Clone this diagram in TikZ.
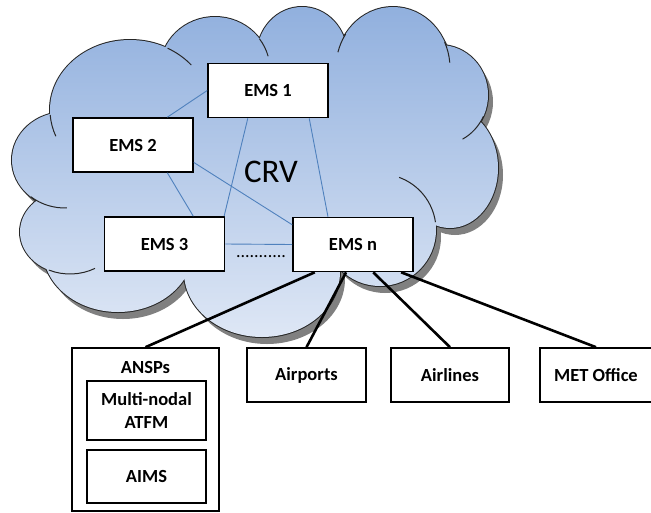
\documentclass[tikz,border=0pt]{standalone}
\usepackage{fontspec}
\setmainfont{Carlito}
\definecolor{cloudtop}{RGB}{145,176,222}
\definecolor{cloudbottom}{RGB}{222,231,245}
\definecolor{meshblue}{RGB}{79,129,189}

\tikzset{
  cloudshape/.style={insert path={
    (130,110) ellipse [x radius=80, y radius=70]
    (215,70) ellipse [x radius=55, y radius=53]
    (302,55) ellipse [x radius=45, y radius=48]
    (393,68) ellipse [x radius=57, y radius=61]
    (440,95) ellipse [x radius=48, y radius=50]
    (450,168) ellipse [x radius=48, y radius=60]
    (380,230) ellipse [x radius=56, y radius=56]
    (262,272) ellipse [x radius=78, y radius=65]
    (118,250) ellipse [x radius=75, y radius=62]
    (70,232) ellipse [x radius=50, y radius=42]
    (65,160) ellipse [x radius=53, y radius=48]
  }},
  cloudcore/.style={insert path={(260,165) ellipse [x radius=210, y radius=110]}},
  boxfont/.style={font=\bfseries\fontsize{18.5}{22.5}\selectfont},
}

\begin{document}
\begin{tikzpicture}[x=1pt, y=-1pt]
\useasboundingbox (0,0) rectangle (651,512);

% the cloud
\fill[black!50, shift={(5,7)}, cloudshape, cloudcore];
\draw[black!85, line width=2pt, cloudshape];
\shade[top color=cloudtop, bottom color=cloudbottom, cloudshape, cloudcore];
\draw[black!85, line width=1pt]
  (130,110) ++(176:80 and 70) arc[start angle=176, end angle=158, x radius=80, y radius=70]
  (130,110) ++(-62:80 and 70) arc[start angle=-62, end angle=-40, x radius=80, y radius=70]
  (215,70) ++(-36:55 and 53) arc[start angle=-36, end angle=-15, x radius=55, y radius=53]
  (393,68) ++(-146:57 and 61) arc[start angle=-146, end angle=-165, x radius=57, y radius=61]
  (393,68) ++(-25:57 and 61) arc[start angle=-25, end angle=-5, x radius=57, y radius=61]
  (440,95) ++(25:48 and 50) arc[start angle=25, end angle=62, x radius=48, y radius=50]
  (380,230) ++(-8:56) arc[start angle=-8, end angle=-70, radius=56]
  (70,232) ++(115:50 and 42) arc[start angle=115, end angle=60, x radius=50, y radius=42]
  (65,160) ++(130:53 and 48) arc[start angle=130, end angle=88, x radius=53, y radius=48];

\node[font=\fontsize{33}{36}\selectfont, anchor=base] (crv) at (271,182) {CRV};

\begin{scope}[every node/.style={draw, line width=1.6pt, fill=white, minimum width=120pt, minimum height=54pt, boxfont}]
  \node (ems1) at (268,90.5) {EMS 1};
  \node (ems2) at (133,145) {EMS 2};
  \node (ems3) at (164.5,244) {EMS 3};
  \node (emsn) at (353,244.5) {EMS n};
\end{scope}

\begin{scope}[every edge/.style={draw=meshblue, line width=0.9pt}]
  \path (ems1.west) edge (ems2.39);
  \path (ems1.-126) edge (ems3.25.5);
  \path (ems1.-34.5) edge (emsn.132);
  \path (ems2.-16.7) edge (emsn.162);
  \path (ems2.-39) edge (ems3.44.5);
  \path (ems3.east) edge (emsn.west);
\end{scope}
\node[font=\fontsize{18}{20}\selectfont, anchor=base] (gap) at (261,257) {...........};

\begin{scope}[every node/.style={draw, line width=1.6pt, fill=white, boxfont, align=center}]
  \node[minimum width=147pt, minimum height=163pt] (ansps) at (145.5,429.5) {};
  \node[minimum width=119pt, minimum height=59pt] (atfm) at (146.5,410.5) {Multi-nodal\\ATFM};
  \node[minimum width=119pt, minimum height=53pt] (aims) at (146.5,476.5) {AIMS};
  \node[minimum width=119pt, minimum height=54pt] (airports) at (306.5,375) {Airports};
  \node[minimum width=118pt, minimum height=54pt] (airlines) at (450,375) {Airlines};
  \node[minimum width=112pt, minimum height=54pt] (met) at (596,375) {MET Office};
\end{scope}
\node[boxfont, anchor=base] (anspstitle) at (145.5,373) {ANSPs};

\begin{scope}[every edge/.style={draw=black, line width=2.6pt}]
  \path (emsn.-144) edge (ansps.north);
  \path (emsn.-104) edge (airports.north);
  \path (emsn.-54) edge (airlines.north);
  \path (emsn.-30) edge (met.north);
\end{scope}
\end{tikzpicture}
\end{document}
